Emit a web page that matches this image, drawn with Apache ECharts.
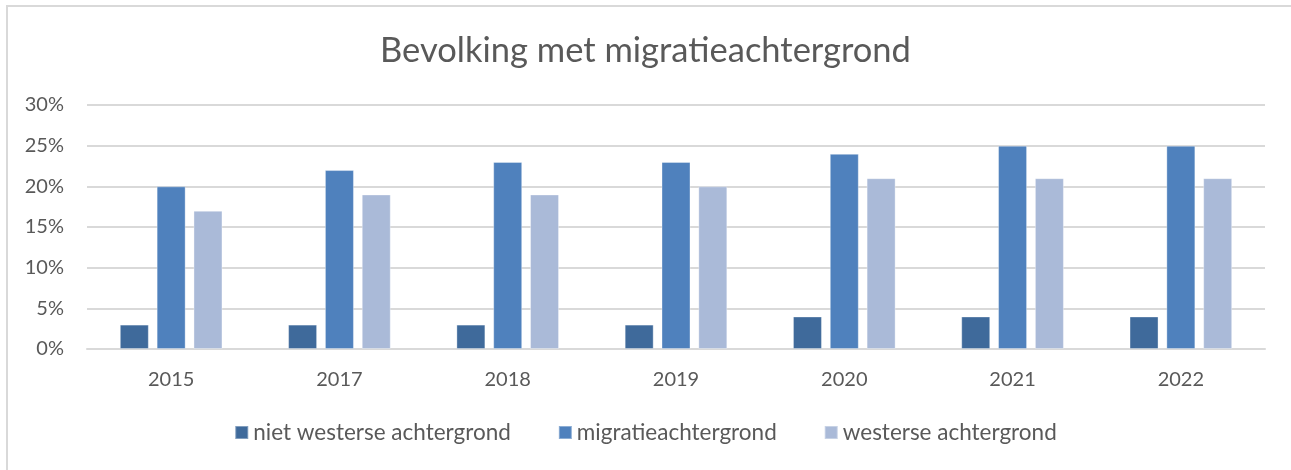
<!DOCTYPE html>
<html>
<head>
<meta charset="utf-8">
<script src="https://cdn.jsdelivr.net/npm/echarts@6/dist/echarts.min.js"></script>
<style>
  html, body { margin: 0; padding: 0; background: #fff; }
  #frame { position: absolute; left: 6px; top: 5px; width: 1300px; height: 480px;
           border-top: 2px solid #d9d9d9; border-left: 2px solid #d9d9d9; }
  #chart { position: absolute; left: 0; top: 0; width: 1291px; height: 470px; }
</style>
</head>
<body>
<div id="frame"></div>
<div id="chart"></div>
<script>
const years = ['2015', '2017', '2018', '2019', '2020', '2021', '2022']
const nietWesters = [3, 3, 3, 3, 4, 4, 4]
const migratie = [20, 22, 23, 23, 24, 25, 25]
const westers = [17, 19, 19, 20, 21, 21, 21]

const font = 'Lato, "Open Sans", sans-serif'
const textColor = '#595959'

const chart = echarts.init(document.getElementById('chart'))

function bar(name, data, color) {
  return {
    name: name,
    type: 'bar',
    data: data,
    barGap: '27%',
    barCategoryGap: '39%',
    itemStyle: { color: color, borderColor: 'rgba(255,255,255,0.35)', borderWidth: 1 }
  }
}

chart.setOption({
  animation: false,
  textStyle: { fontFamily: font },
  title: {
    text: 'Bevolking met migratieachtergrond',
    left: 'center',
    top: 28,
    textStyle: { fontFamily: font, fontSize: 34.5, fontWeight: 'normal', color: textColor }
  },
  legend: {
    bottom: 21,
    left: 'center',
    itemWidth: 13,
    itemHeight: 13,
    itemGap: 47,
    icon: 'rect',
    textStyle: { fontFamily: font, fontSize: 22.5, color: textColor },
    data: ['niet westerse achtergrond', 'migratieachtergrond', 'westerse achtergrond']
  },
  grid: { left: 87, right: 26, top: 105, bottom: 121 },
  xAxis: {
    type: 'category',
    data: years,
    axisLine: { lineStyle: { color: '#d9d9d9', width: 2 } },
    axisTick: { show: false },
    axisLabel: { fontFamily: font, fontSize: 20, color: textColor, margin: 21 }
  },
  yAxis: {
    type: 'value',
    min: 0,
    max: 30,
    interval: 5,
    axisLine: { show: false },
    axisTick: { show: false },
    splitLine: { lineStyle: { color: '#d9d9d9', width: 2 } },
    axisLabel: { fontFamily: font, fontSize: 20, color: textColor, margin: 23, formatter: '{value}%' }
  },
  series: [
    bar('niet westerse achtergrond', nietWesters, '#3f6a9b'),
    bar('migratieachtergrond', migratie, '#4f81bd'),
    bar('westerse achtergrond', westers, '#aabad8')
  ]
})
</script>
</body>
</html>
